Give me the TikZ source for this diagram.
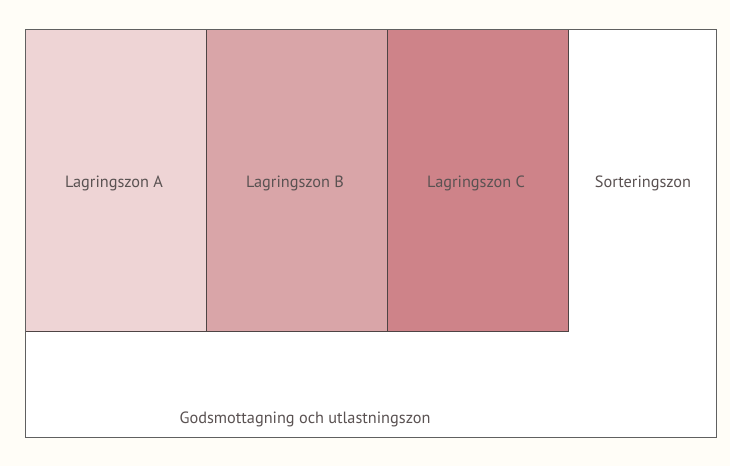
\documentclass[tikz,border=0pt]{standalone}
\usepackage{fontspec}
\setmainfont{PT Sans}
\definecolor{papper}{HTML}{FFFDF7}
\definecolor{zonA}{HTML}{EED4D5}
\definecolor{zonB}{HTML}{D9A5A8}
\definecolor{zonC}{HTML}{CE8389}
\definecolor{textgra}{HTML}{5A5252}
\definecolor{kant}{HTML}{4E4444}
\tikzset{
    zon/.style={draw=kant, line width=0.9pt, minimum width=181pt, minimum height=302pt, inner sep=0pt},
    zontext/.style={text=textgra, font=\fontsize{16.3}{19}\selectfont}
}
\begin{document}
\begin{tikzpicture}[x=1pt,y=-1pt]
            \fill[papper] (0,0)rectangle(730,466);
            \useasboundingbox (0,0)rectangle(730,466);
            \fill[white] (25,29)rectangle(716,437);
            \foreach \u \z \w in {116/A/zonA, 297/B/zonB, 478/C/zonC}{
                    \node[zon, fill=\w] (lager\z) at (\u,180) {};
                    \node[zontext] (text\z) at (\u-2,183) {Lagringszon \z};
                }
            \draw[gray!75!black, line width=0.9pt] (25,29)rectangle(716,437);
            \node[zontext] (sortering) at (643,183) {Sorteringszon};
            \node[zontext] (gods) at (305,419) {Godsmottagning och utlastningszon};
        \end{tikzpicture}
\end{document}
